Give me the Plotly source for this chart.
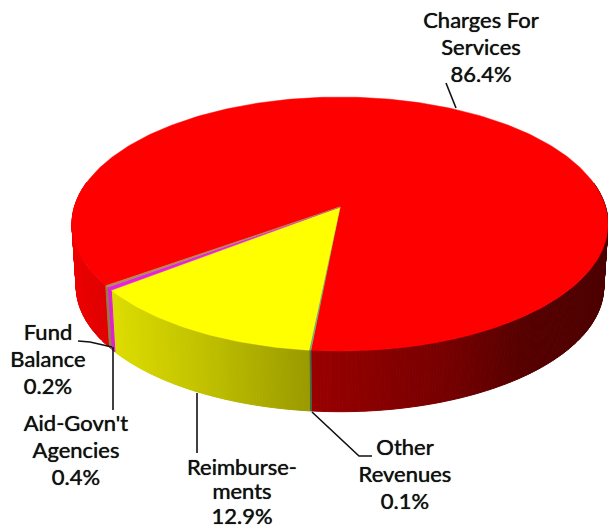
import math
import plotly.graph_objects as go

# Revenue shares, listed in drawing order around the pie
categories = ["Charges For Services", "Other Revenues", "Reimbursements", "Aid-Govn't Agencies", "Fund Balance"]
shares = [86.4, 0.1, 12.9, 0.4, 0.2]
top_colors = ["#ff0000", "#6fb26f", "#ffff00", "#e820e0", "#b08a50"]
side_colors = [(255, 0, 0), (111, 178, 111), (255, 255, 0), (255, 36, 245), (176, 138, 80)]

label_lines = [["Charges For", "Services", "86.4%"], ["Other", "Revenues", "0.1%"],
               ["Reimburse-", "ments", "12.9%"], ["Aid-Govn't", "Agencies", "0.4%"],
               ["Fund", "Balance", "0.2%"]]
label_x = [481, 405, 242, 76, 48]
label_y = [22, 449, 469, 425, 334]
label_gap = [27, 27, 24.5, 27, 27]
leader_x = [[446, 456], [312, 359, 372], [197, 197], [113, 113], [78, 90, 112]]
leader_y = [[83, 108], [412, 456, 456], [393, 453], [347, 410], [341, 342, 347]]

# Pie geometry on the page's pixel grid
CX, TOP_CY, BOT_CY = 340, 207, 270
RX, RY, TILT = 265.6, 124.7, 0.134
BOT_SCALE = 0.984
START_DEG = 54.4


def project(theta_deg, cy, scale):
    """Perspective projection of a rim point; theta runs clockwise from the front."""
    t = math.radians(theta_deg)
    u, v = -math.sin(t), math.cos(t)
    d = 1 - TILT * v
    return CX + scale * RX * u / d, cy + scale * RY * v / d


def shade(rgb, x):
    """Side-wall lighting: bright on the left, fading to dark at the right."""
    stops = [(72, 0.93), (110, 0.87), (200, 0.76), (312, 0.60), (450, 0.46), (520, 0.34), (608, 0.30)]
    f = stops[-1][1]
    for (x0, f0), (x1, f1) in zip(stops, stops[1:]):
        if x <= x1:
            f = f0 + (f1 - f0) * max(0, x - x0) / (x1 - x0)
            break
    return "rgb(%d,%d,%d)" % tuple(round(c * f) for c in rgb)


fig = go.Figure()

spans = []
angle = START_DEG
for share in shares:
    spans.append((angle, angle + share * 3.6))
    angle += share * 3.6

# Side wall: one thin strip per step of rim, front half only
for (a0, a1), rgb in zip(spans, side_colors):
    steps = max(1, round((a1 - a0) / 0.6))
    for i in range(steps):
        t0 = a0 + (a1 - a0) * i / steps
        t1 = a0 + (a1 - a0) * (i + 1) / steps
        mid = (t0 + t1) / 2
        if math.cos(math.radians(mid)) < -0.2:
            continue
        pts = [project(t0, TOP_CY, 1), project(t1, TOP_CY, 1),
               project(t1, BOT_CY, BOT_SCALE), project(t0, BOT_CY, BOT_SCALE)]
        col = shade(rgb, sum(p[0] for p in pts) / 4)
        fig.add_trace(go.Scatter(x=[p[0] for p in pts] + [pts[0][0]],
                                 y=[p[1] for p in pts] + [pts[0][1]],
                                 mode="lines", fill="toself", fillcolor=col,
                                 line=dict(color=col, width=1), hoverinfo="skip"))

# Top face
for (a0, a1), col, name in zip(spans, top_colors, categories):
    steps = max(2, round((a1 - a0) / 1.0))
    rim = [project(a0 + (a1 - a0) * i / steps, TOP_CY, 1) for i in range(steps + 1)]
    xs = [CX] + [p[0] for p in rim] + [CX]
    ys = [TOP_CY] + [p[1] for p in rim] + [TOP_CY]
    fig.add_trace(go.Scatter(x=xs, y=ys, mode="lines", fill="toself", fillcolor=col,
                             line=dict(color=col, width=0.5), name=name, hoverinfo="name"))

# Leader lines
for lx, ly in zip(leader_x, leader_y):
    fig.add_trace(go.Scatter(x=lx, y=ly, mode="lines", line=dict(color="#111111", width=1.6),
                             hoverinfo="skip"))

# Category labels, one text mark per line for even spacing
for lines, x0, y0, gap in zip(label_lines, label_x, label_y, label_gap):
    fig.add_trace(go.Scatter(x=[x0] * len(lines), y=[y0 + i * gap for i in range(len(lines))],
                             mode="text", text=lines, textposition="middle center",
                             textfont=dict(family="Lato", size=22, color="#111111",
                                           shadow="0 0 0.8px #111111"),
                             hoverinfo="skip"))

fig.update_layout(width=608, height=531, margin=dict(l=0, r=0, t=0, b=0),
                  showlegend=False, paper_bgcolor="white", plot_bgcolor="white",
                  xaxis=dict(range=[0, 608], visible=False, fixedrange=True),
                  yaxis=dict(range=[531, 0], visible=False, fixedrange=True))
fig.write_html("out.html", config=dict(displayModeBar=False))
